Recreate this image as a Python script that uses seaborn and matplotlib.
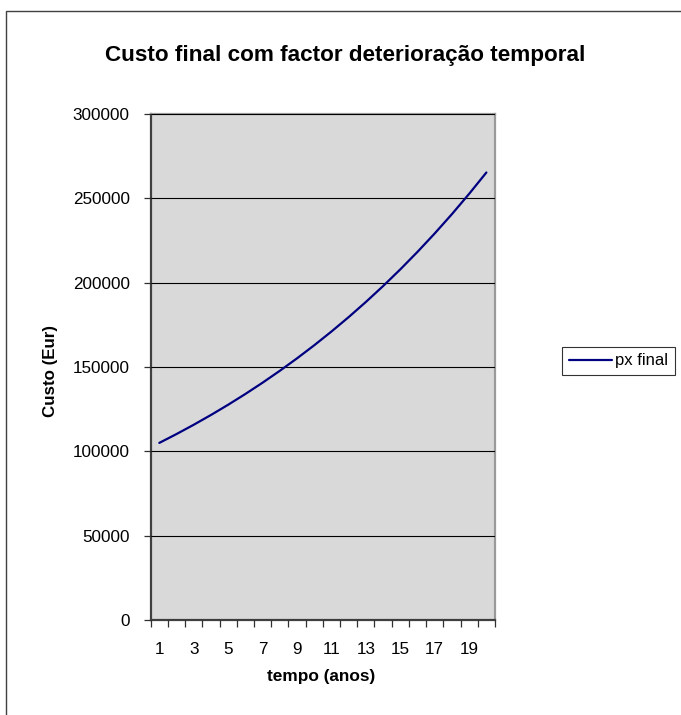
import matplotlib
matplotlib.use("Agg")
import matplotlib.pyplot as plt
from matplotlib.patches import Rectangle
import seaborn as sns
import pandas as pd

# Final cost per year, with the time-deterioration factor applied
anos = list(range(1, 21))
px_final = [105000, 110250, 115763, 121551, 127628, 134010, 140710, 147746,
            155133, 162889, 171034, 179586, 188565, 197993, 207893, 218287,
            229202, 240662, 252695, 265330]
y_ticks = [0, 50000, 100000, 150000, 200000, 250000, 300000]
x_labels = [1, 3, 5, 7, 9, 11, 13, 15, 17, 19]

df = pd.DataFrame({"tempo": anos, "custo": px_final, "serie": "px final"})

sns.set_style("white")
plt.rcParams["font.family"] = ["Liberation Sans", "DejaVu Sans"]
plt.rcParams["text.color"] = "black"
plt.rcParams["xtick.color"] = "black"
plt.rcParams["ytick.color"] = "black"

W, H = 681, 715
fig = plt.figure(figsize=(W / 100, H / 100), dpi=100)
ax = fig.add_axes([150.7 / W, 1 - 620 / H, (495 - 150.7) / W, (620 - 114) / H])

ax.set_facecolor("#D9D9D9")
sns.lineplot(data=df, x="tempo", y="custo", hue="serie", palette=["#000080"],
             linewidth=1.6, ax=ax, legend=False)

ax.set_xlim(0.5, 20.5)
ax.set_ylim(0, 300000)

# category axis: ticks on boundaries, labels at odd years
ax.set_xticks([i + 0.5 for i in range(0, 21)])
ax.set_xticklabels([])
ax.set_xticks(x_labels, minor=True)
ax.set_xticklabels([str(v) for v in x_labels], minor=True)
ax.tick_params(axis="x", which="major", direction="out", length=5, width=0.9,
               color="#303030", bottom=True)
ax.tick_params(axis="x", which="minor", length=0, pad=16, labelsize=12.3)

ax.set_yticks(y_ticks)
ax.set_yticklabels([str(v) for v in y_ticks])
ax.tick_params(axis="y", direction="out", length=5, width=0.9, color="#303030",
               pad=10, labelsize=12.3, left=True)

ax.grid(axis="y", color="black", linewidth=0.8)
ax.grid(axis="x", visible=False)
ax.set_axisbelow(False)
for ln in ax.get_ygridlines():
    ln.set_zorder(1)
ax.lines[0].set_zorder(3)

for side in ["left", "bottom"]:
    ax.spines[side].set_color("#404040")
    ax.spines[side].set_linewidth(1.6)
for side in ["top", "right"]:
    ax.spines[side].set_color("#9A9A9A")
    ax.spines[side].set_linewidth(1.6)

ax.set_xlabel("")
ax.set_ylabel("")
fig.text(321 / W, 1 - 677 / H, "tempo (anos)", ha="center", va="center",
         fontsize=12.4, fontweight="bold")
fig.text(51 / W, 1 - 371 / H, "Custo (Eur)", ha="center", va="center",
         rotation=90, fontsize=12.2, fontweight="bold")
fig.text(345.5 / W, 1 - 55 / H, "Custo final com factor deterioração temporal",
         ha="center", va="center", fontsize=16.2, fontweight="bold")

# outer chart frame
fig.patches.append(Rectangle((6 / W, -0.05), 1.1, 1 - 11 / H + 0.05,
                             transform=fig.transFigure, fill=False,
                             edgecolor="#404040", linewidth=1.0))

handle = plt.Line2D([], [], color="#000080", linewidth=1.6)
leg = fig.legend([handle], ["px final"], loc="center",
                 bbox_to_anchor=(618.5 / W, 1 - 361 / H), fontsize=12,
                 frameon=True, fancybox=False, handlelength=2.6,
                 handletextpad=0.15, borderpad=0.4, borderaxespad=0)
leg.get_frame().set_edgecolor("black")
leg.get_frame().set_linewidth(0.8)

fig.savefig("out.png", dpi=100)
